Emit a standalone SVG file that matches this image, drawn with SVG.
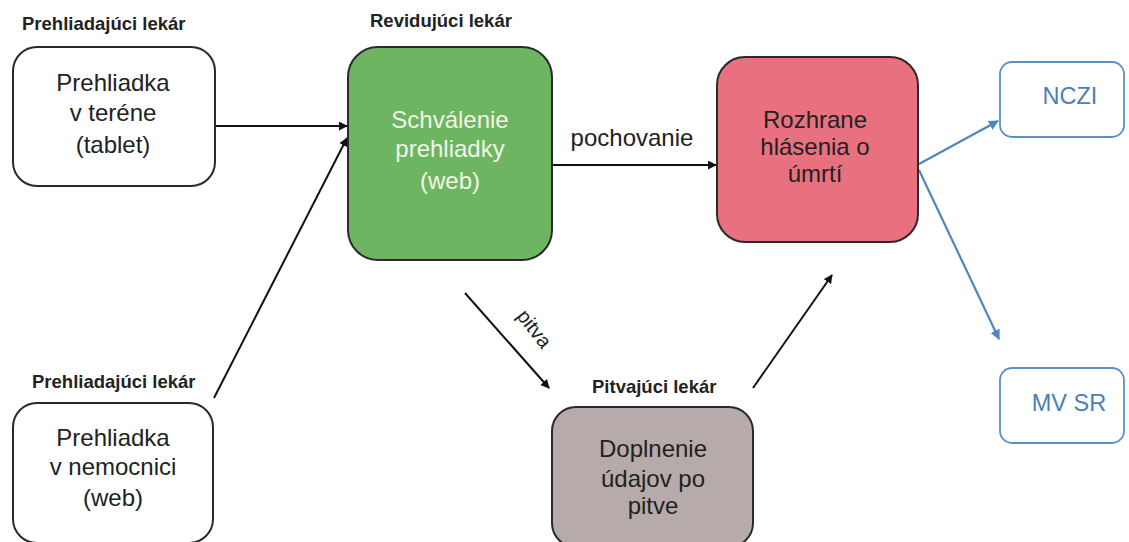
<svg xmlns="http://www.w3.org/2000/svg" width="1129" height="542" viewBox="0 0 1129 542">
<style>
.lbl{font-family:"Liberation Sans",Arial,sans-serif;font-size:18.5px;font-weight:bold;fill:#222}
.txt{font-family:"Liberation Sans",Arial,sans-serif;font-size:24px;fill:#222;text-anchor:middle}
.wt{fill:#f1f6e8}
.bt{font-family:"Liberation Sans",Arial,sans-serif;font-size:23.5px;fill:#4a7fb8;text-anchor:middle}
.box{stroke:#2a2a2a;stroke-width:2}
.blk{stroke:#111;stroke-width:2;fill:none;marker-end:url(#ah)}
.blu{stroke:#4f86c2;stroke-width:2.2;fill:none;marker-end:url(#ahb)}
</style>
<defs>
<marker id="ah" viewBox="0 0 10 10" refX="9" refY="5" markerWidth="9" markerHeight="9" markerUnits="userSpaceOnUse" orient="auto"><path d="M0,0 L10,5 L0,10 z" fill="#111"/></marker>
<marker id="ahb" viewBox="0 0 10 10" refX="9" refY="5" markerWidth="10" markerHeight="10" markerUnits="userSpaceOnUse" orient="auto"><path d="M0,0 L10,5 L0,10 z" fill="#4f86c2"/></marker>
</defs>
<rect width="1129" height="542" fill="#ffffff"/>

<g id="connectors">
<line class="blk" x1="215" y1="126" x2="347" y2="126"/>
<line class="blk" x1="214" y1="398" x2="347" y2="138"/>
<line class="blk" x1="552" y1="165" x2="716" y2="165"/>
<line class="blk" x1="465" y1="293" x2="549" y2="388"/>
<line class="blk" x1="753" y1="388" x2="832" y2="275"/>
<line class="blu" x1="919" y1="164" x2="998" y2="121"/>
<line class="blu" x1="919" y1="170" x2="999" y2="339"/>
<text class="txt" x="632" y="146">pochovanie</text>
<text font-family="'Liberation Sans',Arial,sans-serif" font-size="20px" fill="#222" text-anchor="middle" transform="translate(529,333) rotate(52)">pitva</text>
</g>

<g id="node-teren">
<text class="lbl" x="22" y="30">Prehliadajúci lekár</text>
<rect class="box" x="13" y="47" width="202" height="139" rx="24" fill="#ffffff"/>
<text class="txt" x="113" y="91">Prehliadka</text>
<text class="txt" x="113" y="121">v teréne</text>
<text class="txt" x="113" y="153">(tablet)</text>
</g>

<g id="node-nemocnica">
<text class="lbl" x="32" y="388">Prehliadajúci lekár</text>
<rect class="box" x="13" y="403" width="200" height="140" rx="24" fill="#ffffff"/>
<text class="txt" x="113" y="446">Prehliadka</text>
<text class="txt" x="113" y="475">v nemocnici</text>
<text class="txt" x="113" y="506">(web)</text>
</g>

<g id="node-schvalenie">
<text class="lbl" x="370" y="27">Revidujúci lekár</text>
<rect class="box" x="348" y="47" width="204" height="213" rx="30" fill="#6db560"/>
<text class="txt wt" x="450" y="128">Schválenie</text>
<text class="txt wt" x="450" y="157">prehliadky</text>
<text class="txt wt" x="450" y="189">(web)</text>
</g>

<g id="node-rozhranie">
<rect class="box" x="717" y="57" width="201" height="185" rx="28" fill="#e9717f"/>
<text class="txt" x="815" y="128">Rozhrane</text>
<text class="txt" x="815" y="155">hlásenia o</text>
<text class="txt" x="815" y="182">úmrtí</text>
</g>

<g id="node-pitva">
<text class="lbl" x="592" y="393">Pitvajúci lekár</text>
<rect class="box" x="552" y="407" width="201" height="140" rx="24" fill="#b6abaa"/>
<text class="txt" x="653" y="457">Doplnenie</text>
<text class="txt" x="653" y="487">údajov po</text>
<text class="txt" x="653" y="514">pitve</text>
</g>

<g id="node-nczi">
<rect x="1000" y="62" width="124" height="75" rx="12" fill="#ffffff" stroke="#5b8fc8" stroke-width="1.8"/>
<text class="bt" x="1070" y="104">NCZI</text>
</g>

<g id="node-mvsr">
<rect x="1000" y="368" width="124" height="75" rx="12" fill="#ffffff" stroke="#5b8fc8" stroke-width="1.8"/>
<text class="bt" x="1069" y="411">MV SR</text>
</g>
</svg>
